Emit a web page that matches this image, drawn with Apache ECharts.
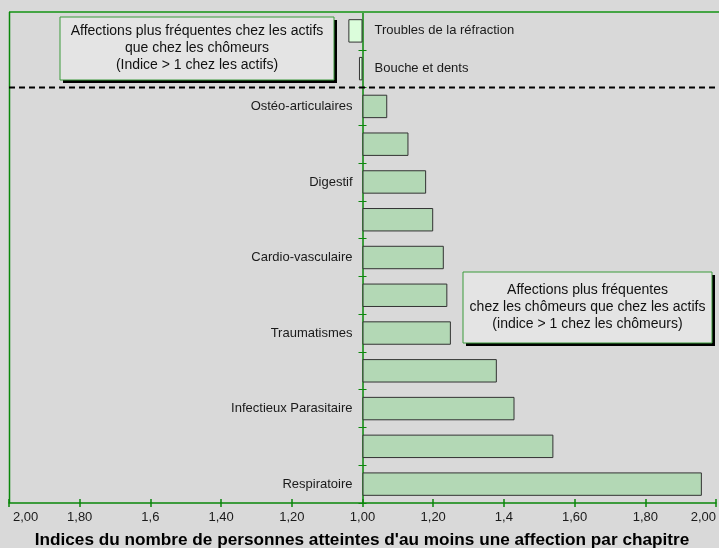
<!DOCTYPE html>
<html>
<head>
<meta charset="utf-8">
<script src="https://cdn.jsdelivr.net/npm/echarts@6/dist/echarts.min.js"></script>
<style>html,body{margin:0;padding:0;background:#d9d9d9;}#c{width:719px;height:548px;}</style>
</head>
<body>
<div id="c"></div>
<script>
// Categories (top to bottom); unlabeled rows in the source are left empty
const categories = ['Troubles de la réfraction', 'Bouche et dents', 'Ostéo-articulaires', '', 'Digestif', '', 'Cardio-vasculaire', '', 'Traumatismes', '', 'Infectieux Parasitaire', '', 'Respiratoire'];
// Index > 1 among workers (bars to the left)
const indiceActifs = [1.04, 1.01, null, null, null, null, null, null, null, null, null, null, null];
// Index > 1 among unemployed (bars to the right)
const indiceChomeurs = [null, null, 1.07, 1.13, 1.18, 1.20, 1.23, 1.24, 1.25, 1.38, 1.43, 1.54, 1.96];
// Tick labels, left to right
const tickLabels = ['2,00', '1,80', '1,6', '1,40', '1,20', '1,00', '1,20', '1,4', '1,60', '1,80', '2,00'];
const titleText = "Indices du nombre de personnes atteintes d'au moins une affection par chapitre";
const note1 = ['Affections plus fréquentes chez les actifs', 'que chez les chômeurs', '(Indice > 1 chez les actifs)'];
const note2 = ['Affections plus fréquentes', 'chez les chômeurs que chez les actifs', '(indice > 1 chez les chômeurs)'];

const FONT = "'Liberation Sans', Arial, sans-serif";
const GREEN = '#0a870a';
const chart = echarts.init(document.getElementById('c'));

const G = {left: 9, right: 0, top: 12, bottom: 45};

function tickFmt(v) {
  const i = Math.round((v + 1) / 0.2);
  const t = tickLabels[i] !== undefined ? tickLabels[i] : '';
  return i === 0 ? '{first|' + t + '}' : t;
}

const option = {
  backgroundColor: '#d9d9d9',
  animation: false,
  textStyle: {fontFamily: FONT},
  title: {
    text: titleText, left: 357, top: 527, textAlign: 'center',
    textStyle: {fontFamily: FONT, fontSize: 17.2, fontWeight: 'bold', color: '#000'}
  },
  grid: {left: G.left, right: G.right, top: G.top, bottom: G.bottom, containLabel: false},
  xAxis: [{
    type: 'value', min: -1, max: 1, interval: 0.2, position: 'bottom',
    axisLine: {show: true, onZero: false, lineStyle: {color: GREEN, width: 1.5}},
    axisTick: {show: true, length: 4, lineStyle: {color: GREEN, width: 1.5}},
    splitLine: {show: false},
    axisLabel: {formatter: tickFmt, fontSize: 13, color: '#1a1a1a', fontFamily: FONT, margin: 8,
      alignMinLabel: 'left', alignMaxLabel: 'right',
      rich: {first: {fontSize: 13, color: '#1a1a1a', fontFamily: FONT, padding: [0, 0, 0, 4]}}}
  }, {
    type: 'value', min: -1, max: 1, interval: 0.2, position: 'bottom',
    axisLine: {show: false, onZero: false},
    axisTick: {show: true, inside: true, length: 4, lineStyle: {color: GREEN, width: 1.5}},
    splitLine: {show: false}, axisLabel: {show: false}
  }],
  yAxis: [{
    type: 'category', data: categories, inverse: true, position: 'left',
    axisLine: {show: true, onZero: true, lineStyle: {color: GREEN, width: 1.5}},
    axisTick: {show: true, length: 4, interval: 0, lineStyle: {color: GREEN}},
    axisLabel: {show: false}, splitLine: {show: false}
  }, {
    type: 'category', data: categories, inverse: true, position: 'right',
    axisLine: {show: false, onZero: true},
    axisTick: {show: true, length: 4, interval: 0, lineStyle: {color: GREEN}},
    axisLabel: {show: false}, splitLine: {show: false}
  }],
  series: [{
    name: 'actifs', type: 'bar', xAxisIndex: 0, yAxisIndex: 0,
    barGap: '-100%', barCategoryGap: '38%',
    data: indiceActifs.map(v => v == null ? '-' : -(v - 1)),
    itemStyle: {color: '#dbfddb', borderColor: '#333', borderWidth: 1},
    label: {show: true, position: 'right', distance: 12, fontSize: 13, color: '#1a1a1a', fontFamily: FONT,
      formatter: p => categories[p.dataIndex]}
  }, {
    name: 'chomeurs', type: 'bar', xAxisIndex: 0, yAxisIndex: 0,
    barGap: '-100%', barCategoryGap: '38%',
    data: indiceChomeurs.map(v => v == null ? '-' : (v - 1)),
    itemStyle: {color: '#b3d8b5', borderColor: '#333', borderWidth: 1},
    label: {show: true, position: 'left', distance: 10, fontSize: 13, color: '#1a1a1a', fontFamily: FONT,
      formatter: p => categories[p.dataIndex]}
  }]
};
chart.setOption(option);

// decorative frame, separator and notes
const W = 719, H = 548;
const x0 = G.left, x1 = W - G.right, y0 = G.top, y1 = H - G.bottom;
const ySep = (chart.convertToPixel({yAxisIndex: 0}, 1) + chart.convertToPixel({yAxisIndex: 0}, 2)) / 2;

function note(x, y, w, h, lines) {
  return [
    {type: 'rect', shape: {x: x + 3, y: y + 3, width: w, height: h}, style: {fill: '#000'}, z: 10},
    {type: 'rect', shape: {x: x, y: y, width: w, height: h}, style: {fill: '#e4e4e4', stroke: '#3a9a3a', lineWidth: 1}, z: 11},
    {type: 'text', x: x + w / 2, y: y + h / 2, z: 12,
      style: {text: lines.join('\n'), align: 'center', verticalAlign: 'middle', fontSize: 14, lineHeight: 17,
        fontFamily: FONT, fill: '#111'}}
  ];
}

chart.setOption({
  graphic: [
    {type: 'line', shape: {x1: x0, y1: y0, x2: x1, y2: y0}, style: {stroke: '#45a545', lineWidth: 2}, z: 5},
    {type: 'line', shape: {x1: x0 + 0.5, y1: y0, x2: x0 + 0.5, y2: y1}, style: {stroke: GREEN, lineWidth: 1.5}, z: 5},
    {type: 'line', shape: {x1: x0, y1: ySep, x2: x1, y2: ySep}, style: {stroke: '#000', lineWidth: 2, lineDash: [6, 4]}, z: 5},
    ...note(60, 17, 274, 63, note1),
    ...note(463, 272, 249, 71, note2)
  ]
});
</script>
</body>
</html>
